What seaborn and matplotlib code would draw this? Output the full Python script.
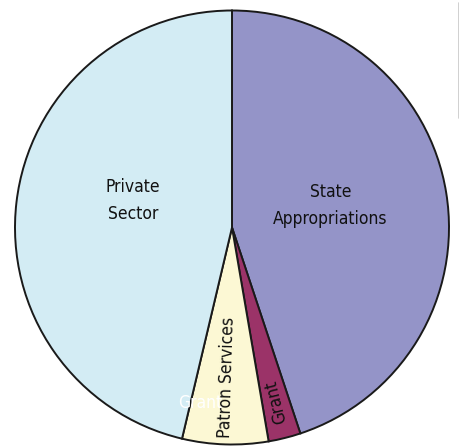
import numpy as np
import matplotlib
matplotlib.use("Agg")
import matplotlib.pyplot as plt
from matplotlib.lines import Line2D
import seaborn as sns

# slices, clockwise from 12 o'clock
categories = ["State\nAppropriations", "Grant", "Patron Services", "Private\nSector"]
shares = [44.9, 2.4, 6.4, 46.3]
slice_colors = ["#9494c8", "#9b3368", "#fcf8d4", "#d3ecf4"]
stray_label = "Grant"  # leftover white label near the patron/private edge

# label layout: radius (fraction of R), extra lift, along-radius or flat
label_layout = {
    "State\nAppropriations": (0.46, 0.03, False),
    "Grant": (0.83, 0.0, True),
    "Patron Services": (0.69, 0.0, True),
    "Private\nSector": (0.46, 0.07, False),
}

sns.set_theme(style="white")
plt.rcParams['font.family'] = ['DejaVu Sans']
plt.rcParams['font.stretch'] = 'condensed'

fig = plt.figure(figsize=(4.6, 4.46), dpi=100)
ax = fig.add_axes([14.5 / 460, 1.5 / 446, 435 / 460, 434 / 446])

wedges, _ = ax.pie(shares, colors=sns.color_palette(slice_colors), startangle=90,
                   counterclock=False, radius=1,
                   wedgeprops=dict(edgecolor="#1a1a1a", linewidth=1.4))

# place labels at the slice mid-angles
total = sum(shares)
start = 90.0
for lab, val in zip(categories, shares):
    rr, lift, radial = label_layout[lab]
    span = 360.0 * val / total
    mid = np.deg2rad(start - span / 2)
    x, y = rr * np.cos(mid), rr * np.sin(mid) + lift
    if radial:
        rot = np.rad2deg(mid) + 180
        ax.text(x, y, lab, ha="center", va="center", rotation=rot,
                rotation_mode="anchor", fontsize=12.5, color="#111111")
    else:
        ax.text(x, y, lab, ha="center", va="center", fontsize=12.5,
                color="#111111", linespacing=1.65)
    start -= span

# white stray label just inside the patron / private boundary
edge = np.deg2rad(90 - 360.0 * sum(shares[:3]) / total + 3)
ax.text(0.82 * np.cos(edge), 0.82 * np.sin(edge), stray_label, ha="center",
        va="center", fontsize=12.5, color="white")

ax.set_xlim(-1.0, 1.0)
ax.set_ylim(-1.0, 1.0)

fig.add_artist(Line2D([459 / 460, 459 / 460], [1 - 3 / 446, 1 - 118 / 446],
                      transform=fig.transFigure, color="#c8c8c8", lw=1.2))

fig.savefig("out.png", dpi=100)
